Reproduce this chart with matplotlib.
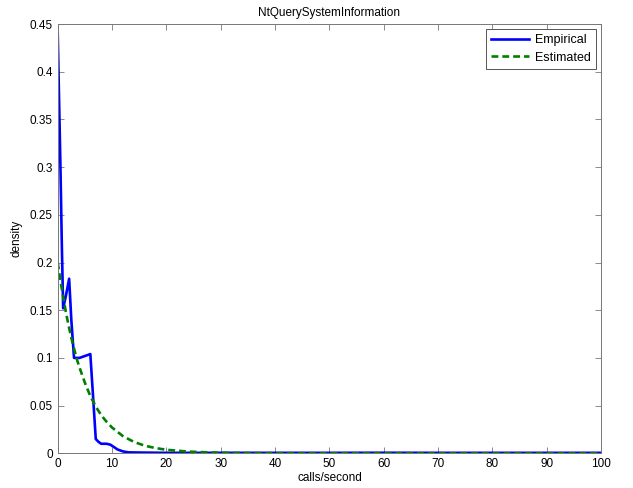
import matplotlib
matplotlib.use("Agg")
import matplotlib.pyplot as plt

# Empirical density
emp_x = [0, 0.25, 0.5, 0.75, 1.0, 1.5, 2.1, 2.5, 3.0, 4.0, 5.0, 6.0, 6.5, 7.0, 7.5, 8.0, 9.0, 9.7, 10.5, 11.0, 12.0, 13.0, 15.0, 20.0, 30.0, 40.0, 50.0, 60.0, 70.0, 80.0, 90.0, 100.0]
emp_y = [0.44, 0.37, 0.30, 0.22, 0.152, 0.165, 0.183, 0.14, 0.100, 0.100, 0.102, 0.104, 0.06, 0.015, 0.012, 0.010, 0.010, 0.009, 0.006, 0.004, 0.002, 0.001, 0.0008, 0.0005, 0.0005, 0.0005, 0.0005, 0.0006, 0.0005, 0.0005, 0.0005, 0.0005]

# Estimated density
est_x = [0, 0.5, 1, 1.5, 2, 2.5, 3, 3.5, 4, 5, 6, 7, 8, 9, 10, 12, 14, 16, 18, 20, 24, 28, 32, 36, 40, 50, 60, 70, 80, 90, 100]
est_y = [0.200, 0.181, 0.164, 0.148, 0.134, 0.121, 0.110, 0.099, 0.090, 0.074, 0.060, 0.049, 0.040, 0.033, 0.027, 0.018, 0.012, 0.008, 0.0055, 0.0037, 0.0018, 0.0009, 0.0004, 0.0002, 0.0001, 0.0, 0.0, 0.0, 0.0, 0.0, 0.0]

x_ticks = [0, 10, 20, 30, 40, 50, 60, 70, 80, 90, 100]
y_ticks = [0, 0.05, 0.1, 0.15, 0.2, 0.25, 0.3, 0.35, 0.4, 0.45]
y_tick_labels = ["0", "0.05", "0.1", "0.15", "0.2", "0.25", "0.3", "0.35", "0.4", "0.45"]

plt.rcParams['font.family'] = ['Liberation Sans', 'DejaVu Sans']
plt.rcParams['font.size'] = 8.5

fig = plt.figure(figsize=(6.33, 4.88), dpi=100)
ax = fig.add_axes([0.0912, 0.0711, 0.8583, 0.8797])

ax.plot(emp_x, emp_y, color='#0000ff', lw=1.9, label='Empirical')
ax.plot(est_x, est_y, color='#008000', lw=1.9, ls=(0, (2.6, 1.5)), label='Estimated')

ax.set_xlim(0, 100)
ax.set_ylim(0, 0.45)
ax.set_xticks(x_ticks)
ax.set_xticklabels([str(t) for t in x_ticks])
ax.set_yticks(y_ticks)
ax.set_yticklabels(y_tick_labels)
ax.tick_params(direction='in', top=True, right=True, length=4, width=0.6, colors='#777777', labelcolor='black')
for s in ax.spines.values():
    s.set_linewidth(0.7)
    s.set_color('#777777')

ax.set_title('NtQuerySystemInformation', fontsize=8.5, pad=6)
ax.set_xlabel('calls/second', labelpad=1)
ax.set_ylabel('density', labelpad=5)

leg = ax.legend(loc='upper right', fancybox=False, edgecolor='#555555', framealpha=1,
                fontsize=9, handlelength=3.0, borderaxespad=0.4, labelspacing=0.45,
                handletextpad=0.5, borderpad=0.4)
leg.get_frame().set_linewidth(0.7)

fig.savefig('out.png', dpi=100, facecolor='white')
